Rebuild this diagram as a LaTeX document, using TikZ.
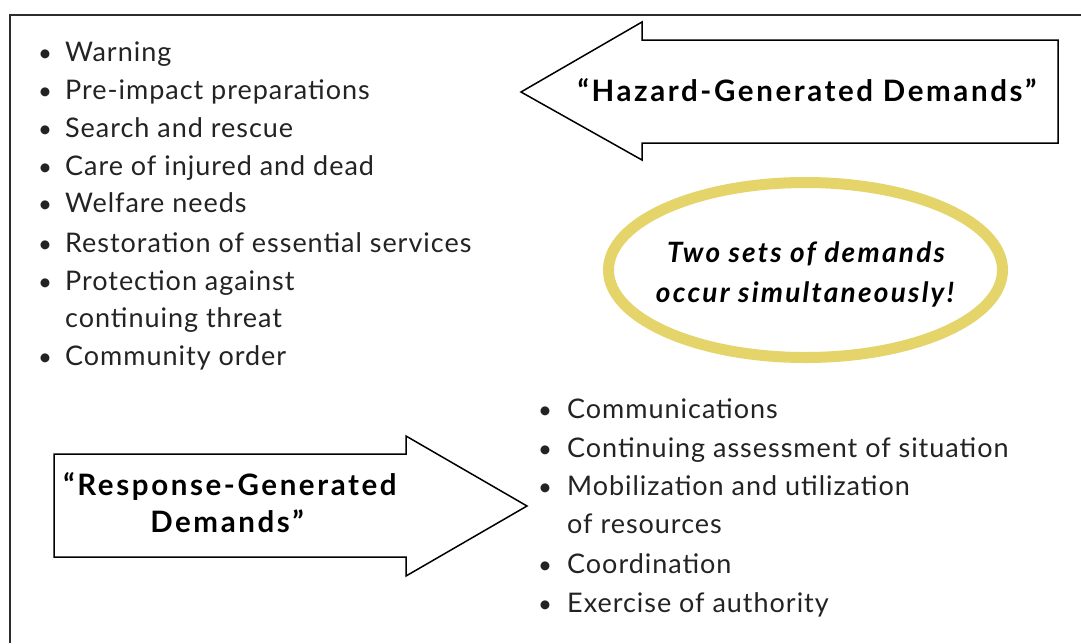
\documentclass[tikz,border=0pt]{standalone}
\usepackage{fontspec}
\setmainfont{Lato}
\newfontfamily\listfont[LetterSpace=3.6]{Lato}
\newfontfamily\widebold[LetterSpace=8.8]{Lato}
\newfontfamily\ringfont[LetterSpace=8]{Lato}
\definecolor{textgray}{RGB}{35,35,35}
\definecolor{framecol}{RGB}{45,45,45}
\definecolor{ringyellow}{RGB}{228,212,106}
\begin{document}
\begin{tikzpicture}[x=1pt,y=-1pt,
  itemtext/.style={anchor=base west, inner sep=0pt, font=\listfont\fontsize{27}{30}\selectfont, text=textgray},
  bulletmark/.style={anchor=base, inner sep=0pt, font=\fontsize{24}{30}\selectfont, text=textgray},
  arrowtext/.style={anchor=base, inner sep=0pt, font=\widebold\fontsize{29.5}{30}\selectfont\bfseries, text=black},
  ringtext/.style={anchor=base, inner sep=0pt, font=\ringfont\fontsize{28}{30}\selectfont\bfseries\itshape, text=black},
  blockarrow/.style={draw=black, line width=1.5pt, fill=white, line join=miter},
  frameline/.style={draw=framecol, line width=2.2pt}]
\useasboundingbox (0,0) rectangle (1081,643);
\fill[white] (0,0) rectangle (1081,643);
% frame
\draw[frameline] (10,643) -- (10,15) -- (1081,15);
% top (hazard) arrow
\draw[blockarrow] (1058,40) -- (642,40) -- (642,22) -- (521,92) -- (642,160) -- (642,143) -- (1058,143) -- cycle;
\node[arrowtext] (hazard) at (807,101) {“Hazard-Generated Demands”};
% bottom (response) arrow
\draw[blockarrow] (54,454) -- (406,454) -- (406,436) -- (527,506) -- (406,576) -- (406,557) -- (54,557) -- cycle;
\node[arrowtext] (resp1) at (230,495) {“Response-Generated};
\node[arrowtext] (resp2) at (227,532) {Demands”};
% ring
\draw[ringyellow, line width=11pt] (805.5,270) ellipse [x radius=197pt, y radius=87.5pt];
\node[ringtext] (ring1) at (806,262) {Two sets of demands};
\node[ringtext] (ring2) at (805,302) {occur simultaneously!};
% left list
\foreach \t/\y/\b [count=\i] in {Warning/61/1, Pre-impact preparations/99/1, Search and rescue/137/1, Care of injured and dead/175/1, Welfare needs/212/1, Restoration of essential services/252/1, Protection against/290/1, continuing threat/327/0, Community order/365/1}{
  \node[itemtext] (L\i) at (65,\y) {\t};
  \ifnum\b=1 \node[bulletmark] (LB\i) at (45,\y) {•};\fi
}
% right list
\foreach \t/\y/\b [count=\i] in {Communications/418/1, Continuing assessment of situation/457/1, Mobilization and utilization/495/1, of resources/533/0, Coordination/573/1, Exercise of authority/612/1}{
  \node[itemtext] (R\i) at (567,\y) {\t};
  \ifnum\b=1 \node[bulletmark] (RB\i) at (545,\y) {•};\fi
}
\end{tikzpicture}
\end{document}
